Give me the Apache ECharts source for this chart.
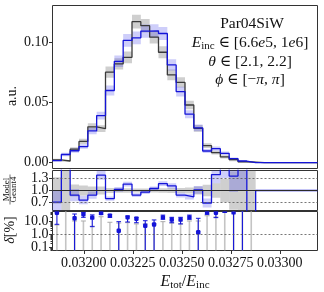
<!DOCTYPE html>
<html>
<head>
<meta charset="utf-8">
<script src="https://cdn.jsdelivr.net/npm/echarts@6.0.0/dist/echarts.min.js"></script>
<style>
html,body{margin:0;padding:0;background:#ffffff;}
#chart{width:324px;height:292px;}
</style>
</head>
<body>
<div id="chart"></div>
<script>
// ---------------- data ----------------
const binStart = 0.03184;
const binWidth = 0.00004507;
const nBins = 30;

const geant4 = [0.0024,0.0014,0.0112,0.0176,0.0297,0.0282,0.0750,0.0818,0.0873,0.1168,
                0.1135,0.1040,0.0915,0.0727,0.0665,0.0478,0.0285,0.0141,0.0083,0.0048,
                0.0025,0.0008,0.0004,0,0,0,0,0,0,0];
const model  = [0.0017,0.0068,0.0099,0.0134,0.0263,0.0390,0.0598,0.0840,0.1013,0.1034,
                0.1090,0.1092,0.1070,0.0810,0.0589,0.0402,0.0289,0.0097,0.0116,0.0078,
                0.0034,0.0014,0,0,0,0,0,0,0,0];
const geant4Err = [0.0008,0.0007,0.0017,0.0022,0.0029,0.0028,0.0046,0.0047,0.0049,0.0057,
                   0.0056,0.0053,0.0050,0.0045,0.0043,0.0036,0.0028,0.0020,0.0015,0.0014,
                   0.0012,0.0007,0.0004,0,0,0,0,0,0,0];
const modelErr  = [0.0007,0.0014,0.0017,0.0019,0.0027,0.0033,0.0041,0.0048,0.0053,0.0053,
                   0.0055,0.0055,0.0054,0.0047,0.0040,0.0033,0.0028,0.0016,0.0018,0.0015,
                   0.0010,0.0006,0,0,0,0,0,0,0,0];
// delta [%] panel
const deltaModel   = [42,390,16,32,18,40,25,1.8,19,15,4.4,5.4,19,12.6,12.6,19,1.4,45,42,62,45,75,
                      null,null,null,null,null,null,null,null];
const deltaModelLo = [5.6,150,0,19,3.7,32,19,0,8.4,7.4,0,0,13.5,7.4,6,13.5,0,32,18,45,0,0,
                      null,null,null,null,null,null,null,null];
const deltaModelHi = [50,630,34,45,29,50,32,8.9,24,19,10.5,12,28,19,19,28,16,55,55,80,150,200,
                      null,null,null,null,null,null,null,null];
const deltaGeant4  = [5,100,10,10,4,21,8,7,7.5,6,6,6,8.9,7,6,10,10,25,20,45,70,90,100,
                      null,null,null,null,null,null,null];

const mainTicks  = [0, 0.05, 0.10];
const ratioTicks = [0.7, 1.0, 1.3];
const deltaTicks = [0.1, 1, 10];
const deltaMinorTicks = [0.06,0.07,0.08,0.09,0.2,0.3,0.4,0.5,0.6,0.7,0.8,0.9,2,3,4,5,6,7,8,9,20,30,40,50];
const xTicks = [0.032, 0.03225, 0.0325, 0.03275, 0.033];

const mainRange  = [-0.0048, 0.1302];
const ratioRange = [0.5, 1.5];
const deltaRange = [0.0571, 52.7];

// ---------------- derived ----------------
const edges = [];
for (let i = 0; i <= nBins; i++) edges.push(+(binStart + i * binWidth).toFixed(9));
const xMin = edges[0], xMax = edges[nBins];
const centers = edges.slice(0, nBins).map((e, i) => (e + edges[i + 1]) / 2);
const ratio = model.map((m, i) => geant4[i] > 0 ? m / geant4[i] : (m > 0 ? 10 : 1));

function stepData(vals) {
  const d = vals.map((v, i) => [edges[i], v]);
  d.push([edges[nBins], vals[nBins - 1]]);
  return d;
}
function bandData(lo, hi) {
  const out = [];
  for (let i = 0; i < nBins; i++) {
    if (lo[i] == null || hi[i] == null || hi[i] === lo[i]) continue;
    out.push([edges[i], edges[i + 1], lo[i], hi[i]]);
  }
  return out;
}
const gBand = bandData(geant4.map((v,i)=>v-geant4Err[i]), geant4.map((v,i)=>v+geant4Err[i]));
const mBand = bandData(model.map((v,i)=>v-modelErr[i]), model.map((v,i)=>v+modelErr[i]));
const gRatioBand = bandData(
  geant4.map((g,i)=> g>0 ? 1 - geant4Err[i]/g : null),
  geant4.map((g,i)=> g>0 ? 1 + geant4Err[i]/g : null));
const mRatioBand = bandData(
  geant4.map((g,i)=> g>0 ? ratio[i] - modelErr[i]/g : null),
  geant4.map((g,i)=> g>0 ? ratio[i] + modelErr[i]/g : null));

const stemData = [];
deltaGeant4.forEach((v, i) => { if (v != null) stemData.push([centers[i], v]); });
const errData = [];
deltaModel.forEach((v, i) => { if (v != null) errData.push([centers[i], v, deltaModelLo[i], deltaModelHi[i]]); });

// ---------------- style ----------------
const FONT = "'Liberation Serif','DejaVu Serif',serif";
const TXT = '#111111';
const FRAME = '#333333';
const BLUE = '#1414d8';
const DARK = '#3a3a3a';

function bandRender(color) {
  return function (params, api) {
    const p0 = api.coord([api.value(0), api.value(3)]);
    const p1 = api.coord([api.value(1), api.value(2)]);
    return { type: 'rect', shape: { x: p0[0], y: p0[1], width: p1[0] - p0[0], height: p1[1] - p0[1] },
             style: { fill: color } };
  };
}
function yLabel(vals, fmt) {
  return { show: true, customValues: vals, formatter: fmt, fontFamily: FONT, fontSize: 14, lineHeight: 9,
           color: TXT, margin: 4, hideOverlap: false, showMinLabel: true, showMaxLabel: true };
}
function yTick(vals, len) {
  return { show: true, customValues: vals, length: len, lineStyle: { color: FRAME, width: 1 } };
}
function yAxisDef(grid, type, range, labelVals, tickVals, tickLen, fmt) {
  const ax = { gridIndex: grid, type: type, min: range[0], max: range[1], position: 'left',
    axisLine: { show: false }, splitLine: { show: false },
    axisLabel: labelVals ? yLabel(labelVals, fmt) : { show: false },
    axisTick: tickVals ? yTick(tickVals, tickLen) : { show: false } };
  if (type === 'log') ax.logBase = 10;
  return ax;
}
const gridBase = { show: true, borderColor: FRAME, borderWidth: 1, backgroundColor: 'transparent', left: 52.5, width: 265, outerBoundsMode: 'none' };

const fmt2 = v => (+v).toFixed(2);
const fmt1 = v => (+v).toFixed(1);

const option = {
  animation: false,
  backgroundColor: '#ffffff',
  grid: [
    Object.assign({ top: 5.5, height: 163 }, gridBase),
    Object.assign({ top: 170.5, height: 40 }, gridBase),
    Object.assign({ top: 211.5, height: 39 }, gridBase)
  ],
  xAxis: [0, 1, 2].map(g => ({
    gridIndex: g, type: 'value', min: xMin, max: xMax, position: 'bottom',
    axisLine: { show: false }, splitLine: { show: false },
    axisTick: g === 2 ? { show: true, customValues: xTicks, length: 3.5, lineStyle: { color: FRAME } } : { show: false },
    axisLabel: g === 2 ? { show: true, customValues: xTicks, formatter: v => (+v).toFixed(5), fontFamily: FONT, fontSize: 14, color: TXT, margin: 6, hideOverlap: false } : { show: false }
  })),
  yAxis: [
    yAxisDef(0, 'value', mainRange, mainTicks, mainTicks, 3.5, fmt2),                          // 0
    yAxisDef(1, 'value', ratioRange, [ratioTicks[0], ratioTicks[2]], ratioTicks, 3.5, fmt1),   // 1
    yAxisDef(2, 'log', deltaRange, [deltaTicks[0], deltaTicks[2]], deltaTicks, 3.5, fmt1),     // 2
    yAxisDef(2, 'log', deltaRange, null, deltaMinorTicks, 2, fmt1),                            // 3 minor ticks
    yAxisDef(1, 'value', ratioRange, [ratioTicks[1]], null, 0, fmt1),                          // 4 middle label
    yAxisDef(2, 'log', deltaRange, [deltaTicks[1]], null, 0, fmt1)                             // 5 middle label
  ],
  series: [
    { type: 'custom', xAxisIndex: 0, yAxisIndex: 0, clip: true, silent: true, z: 1,
      renderItem: bandRender('rgba(105,105,105,0.32)'), encode: { x: [0, 1], y: [2, 3] }, data: gBand },
    { type: 'custom', xAxisIndex: 0, yAxisIndex: 0, clip: true, silent: true, z: 1,
      renderItem: bandRender('rgba(60,60,235,0.25)'), encode: { x: [0, 1], y: [2, 3] }, data: mBand },
    { type: 'line', xAxisIndex: 0, yAxisIndex: 0, step: 'end', symbol: 'none', silent: true, z: 3,
      lineStyle: { color: DARK, width: 1.3 }, data: stepData(geant4) },
    { type: 'line', xAxisIndex: 0, yAxisIndex: 0, step: 'end', symbol: 'none', silent: true, z: 4,
      lineStyle: { color: BLUE, width: 1.3 }, data: stepData(model) },

    { type: 'custom', xAxisIndex: 1, yAxisIndex: 1, clip: true, silent: true, z: 1,
      renderItem: bandRender('rgba(105,105,105,0.32)'), encode: { x: [0, 1], y: [2, 3] }, data: gRatioBand },
    { type: 'custom', xAxisIndex: 1, yAxisIndex: 1, clip: true, silent: true, z: 1,
      renderItem: bandRender('rgba(60,60,235,0.25)'), encode: { x: [0, 1], y: [2, 3] }, data: mRatioBand },
    { type: 'line', xAxisIndex: 1, yAxisIndex: 1, step: 'end', symbol: 'none', silent: true, z: 4,
      lineStyle: { color: BLUE, width: 1.3 }, data: stepData(ratio),
      markLine: { silent: true, symbol: ['none', 'none'], label: { show: false }, animation: false,
        data: ratioTicks.map(t => ({ yAxis: t, lineStyle: t === 1
          ? { color: '#2a2a2a', width: 1.2, type: 'solid' }
          : { color: '#555555', width: 0.8, type: [2, 2] } })) } },

    { type: 'custom', xAxisIndex: 2, yAxisIndex: 2, clip: true, silent: true, z: 2,
      encode: { x: 0, y: 1 }, data: stemData,
      renderItem: function (params, api) {
        const x = api.value(0), v = api.value(1);
        const pb = api.coord([x, deltaRange[0]]);
        const pt = api.coord([x, v]);
        return { type: 'group', children: [
          { type: 'line', shape: { x1: pb[0], y1: pb[1], x2: pt[0], y2: pt[1] }, style: { stroke: '#c4c4c4', lineWidth: 1.6 } },
          { type: 'line', shape: { x1: pt[0] - 2.5, y1: pt[1], x2: pt[0] + 2.5, y2: pt[1] }, style: { stroke: '#aaaaaa', lineWidth: 1 } }
        ] };
      },
      markLine: { silent: true, symbol: ['none', 'none'], label: { show: false }, animation: false,
        data: [{ yAxis: deltaTicks[1], lineStyle: { color: '#555555', width: 0.8, type: [2, 2] } }] } },
    { type: 'custom', xAxisIndex: 2, yAxisIndex: 2, clip: true, silent: true, z: 3,
      encode: { x: 0, y: [1, 2, 3] }, data: errData,
      renderItem: function (params, api) {
        const x = api.value(0), d = api.value(1), lo = api.value(2), hi = api.value(3);
        const loClamped = lo > deltaRange[0];
        const pl = api.coord([x, loClamped ? lo : deltaRange[0]]);
        const ph = api.coord([x, hi]);
        const pd = api.coord([x, d]);
        const ch = [
          { type: 'line', shape: { x1: pl[0], y1: pl[1], x2: ph[0], y2: ph[1] }, style: { stroke: BLUE, lineWidth: 1.1 } },
          { type: 'line', shape: { x1: ph[0] - 2.3, y1: ph[1], x2: ph[0] + 2.3, y2: ph[1] }, style: { stroke: BLUE, lineWidth: 1 } },
          { type: 'rect', shape: { x: pd[0] - 2.2, y: pd[1] - 2.2, width: 4.4, height: 4.4, r: 1.2 }, style: { fill: BLUE } }
        ];
        if (loClamped) ch.push({ type: 'line', shape: { x1: pl[0] - 2.3, y1: pl[1], x2: pl[0] + 2.3, y2: pl[1] }, style: { stroke: BLUE, lineWidth: 1 } });
        return { type: 'group', children: ch };
      } }
  ],
  graphic: [
    { type: 'text', x: 252, y: 24, style: { text: '{n|Par04SiW}', align: 'center', verticalAlign: 'middle', fill: TXT,
      rich: { n: { fontFamily: FONT, fontSize: 15.5, lineHeight: 17 } } } },
    { type: 'text', x: 250, y: 43, style: { text: '{i|E}{s|inc}{n| ∈ [6.6}{i|e}{n|5, 1}{i|e}{n|6]}', align: 'center', verticalAlign: 'middle', fill: TXT,
      rich: { n: { fontFamily: FONT, fontSize: 15.5, lineHeight: 17 }, i: { fontFamily: FONT, fontSize: 15.5, fontStyle: 'italic', lineHeight: 17 },
              s: { fontFamily: FONT, fontSize: 11, lineHeight: 11, verticalAlign: 'bottom' } } } },
    { type: 'text', x: 250, y: 61.5, style: { text: '{i|θ}{n| ∈ [2.1, 2.2]}', align: 'center', verticalAlign: 'middle', fill: TXT,
      rich: { n: { fontFamily: FONT, fontSize: 15.5, lineHeight: 17 }, i: { fontFamily: FONT, fontSize: 15.5, fontStyle: 'italic', lineHeight: 17 } } } },
    { type: 'text', x: 250, y: 80, style: { text: '{i|ϕ}{n| ∈ [−}{i|π}{n|, }{i|π}{n|]}', align: 'center', verticalAlign: 'middle', fill: TXT,
      rich: { n: { fontFamily: FONT, fontSize: 15.5, lineHeight: 17 }, i: { fontFamily: FONT, fontSize: 15.5, fontStyle: 'italic', lineHeight: 17 } } } },

    { type: 'text', x: 12, y: 96, rotation: Math.PI / 2, style: { text: 'a.u.', font: `14px ${FONT}`, fill: TXT, align: 'center', verticalAlign: 'middle' } },
    { type: 'text', x: 6.6, y: 189.5, rotation: Math.PI / 2, style: { text: 'Model', font: `9px ${FONT}`, fill: TXT, align: 'center', verticalAlign: 'middle' } },
    { type: 'text', x: 13.2, y: 189.5, rotation: Math.PI / 2, style: { text: 'Geant4', font: `9px ${FONT}`, fill: TXT, align: 'center', verticalAlign: 'middle' } },
    { type: 'line', shape: { x1: 10, y1: 174.5, x2: 10, y2: 204.5 }, style: { stroke: TXT, lineWidth: 0.6 } },
    { type: 'text', x: 10.5, y: 230, rotation: Math.PI / 2, style: { text: '{i|δ}{n|[%]}', align: 'center', verticalAlign: 'middle', fill: TXT,
      rich: { n: { fontFamily: FONT, fontSize: 14 }, i: { fontFamily: FONT, fontSize: 14, fontStyle: 'italic' } } } },

    { type: 'text', x: 185, y: 282, style: { text: '{i|E}{s|tot}{n|/}{i|E}{s|inc}', align: 'center', verticalAlign: 'middle', fill: TXT,
      rich: { n: { fontFamily: FONT, fontSize: 16, lineHeight: 18 }, i: { fontFamily: FONT, fontSize: 16, fontStyle: 'italic', lineHeight: 18 },
              s: { fontFamily: FONT, fontSize: 11, lineHeight: 12, verticalAlign: 'bottom' } } } }
  ]
};

const chart = echarts.init(document.getElementById('chart'), null, { renderer: 'canvas', width: 324, height: 292 });
chart.setOption(option);
</script>
</body>
</html>
